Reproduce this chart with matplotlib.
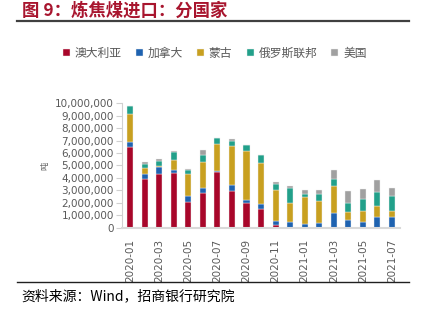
import numpy as np
import matplotlib
matplotlib.use("Agg")
from matplotlib import pyplot as plt

plt.rcParams['font.family'] = ['DejaVu Sans', 'Noto Sans CJK SC']

# 月份
months = ['2020-01', '2020-02', '2020-03', '2020-04', '2020-05', '2020-06', '2020-07',
          '2020-08', '2020-09', '2020-10', '2020-11', '2020-12', '2021-01', '2021-02',
          '2021-03', '2021-04', '2021-05', '2021-06', '2021-07']

# 各国进口量（吨）
australia = [6460000, 3890000, 4320000, 4420000, 2060000, 2820000, 4450000,
             2980000, 1960000, 1530000, 240000, 0, 0, 0,
             0, 0, 0, 0, 0]
canada = [460000, 430000, 590000, 240000, 490000, 370000, 80000,
          480000, 290000, 370000, 320000, 450000, 280000, 360000,
          1180000, 600000, 500000, 850000, 830000]
mongolia = [2220000, 480000, 50000, 810000, 1740000, 2090000, 2170000,
            3080000, 3940000, 3300000, 2470000, 1580000, 2210000, 1770000,
            2150000, 630000, 810000, 860000, 500000]
russia = [650000, 320000, 400000, 590000, 370000, 560000, 510000,
          460000, 460000, 640000, 510000, 1170000, 220000, 560000,
          590000, 750000, 1020000, 1160000, 1220000]
usa = [20000, 130000, 140000, 110000, 30000, 400000, 20000,
       130000, 20000, 20000, 110000, 150000, 330000, 310000,
       680000, 950000, 760000, 940000, 650000]

names = ['澳大利亚', '加拿大', '蒙古', '俄罗斯联邦', '美国']
colors = ['#A8062A', '#1E62B0', '#C8A020', '#22A08A', '#A0A0A0']
series = [australia, canada, mongolia, russia, usa]

fig = plt.figure(figsize=(4.21, 3.35), dpi=100)
ax = fig.add_axes([0.290, 0.320, 0.660, 0.372])

x = np.arange(len(months))
bottom = np.zeros(len(months))
for vals, name, c in zip(series, names, colors):
    vals = np.array(vals, dtype=float)
    ax.bar(x, vals, 0.42, bottom=bottom, color=c, label=name,
           edgecolor='#f0f0f0', linewidth=0.3)
    bottom += vals

ax.set_xlim(-0.55, len(months) - 0.45)
ax.set_ylim(0, 10000000)
ax.set_yticks(np.arange(0, 10000001, 1000000))
ax.set_yticklabels(['{:,}'.format(v) for v in range(0, 10000001, 1000000)])
ax.set_xticks(x[::2])
ax.set_xticklabels(months[::2], rotation=90)

for s in ['top', 'right']:
    ax.spines[s].set_visible(False)
ax.spines['left'].set_color('#d0d0d0')
ax.spines['bottom'].set_color('#d9d9d9')
ax.spines['bottom'].set_linewidth(1.5)
ax.tick_params(axis='y', colors='#d0d0d0', labelcolor='#595959', length=4,
               labelsize=7.5, pad=2)
ax.tick_params(axis='x', length=0, labelcolor='#595959', labelsize=7.5, pad=8)
ax.set_ylabel('吨', fontsize=6, color='#595959', family=['Noto Sans CJK SC'],
              labelpad=4)

fig.legend(loc='center', bbox_to_anchor=(0.51, 1 - 53 / 335), ncol=5,
           frameon=False, prop={'family': 'Noto Sans CJK SC', 'size': 8.5},
           labelcolor='#595959', handlelength=0.6, handleheight=0.6,
           handletextpad=0.4, columnspacing=1.2)

fig.text(22 / 421, 1 - 11 / 335, '图 9：炼焦煤进口：分国家', fontsize=12.5,
         fontweight='bold', color='#A8152E', va='center', ha='left',
         family=['Noto Sans CJK SC', 'DejaVu Sans'])
fig.add_artist(plt.Line2D([17 / 421, 409 / 421], [1 - 21 / 335, 1 - 21 / 335],
                          color='#404040', linewidth=1.6))
fig.add_artist(plt.Line2D([17 / 421, 409 / 421], [1 - 282 / 335, 1 - 282 / 335],
                          color='#202020', linewidth=1.0))
fig.text(21 / 421, 1 - 296 / 335, '资料来源：Wind，招商银行研究院', fontsize=10,
         color='#000000', va='center', ha='left',
         family=['Noto Sans CJK SC', 'DejaVu Sans'])

fig.savefig('out.png', dpi=100)
